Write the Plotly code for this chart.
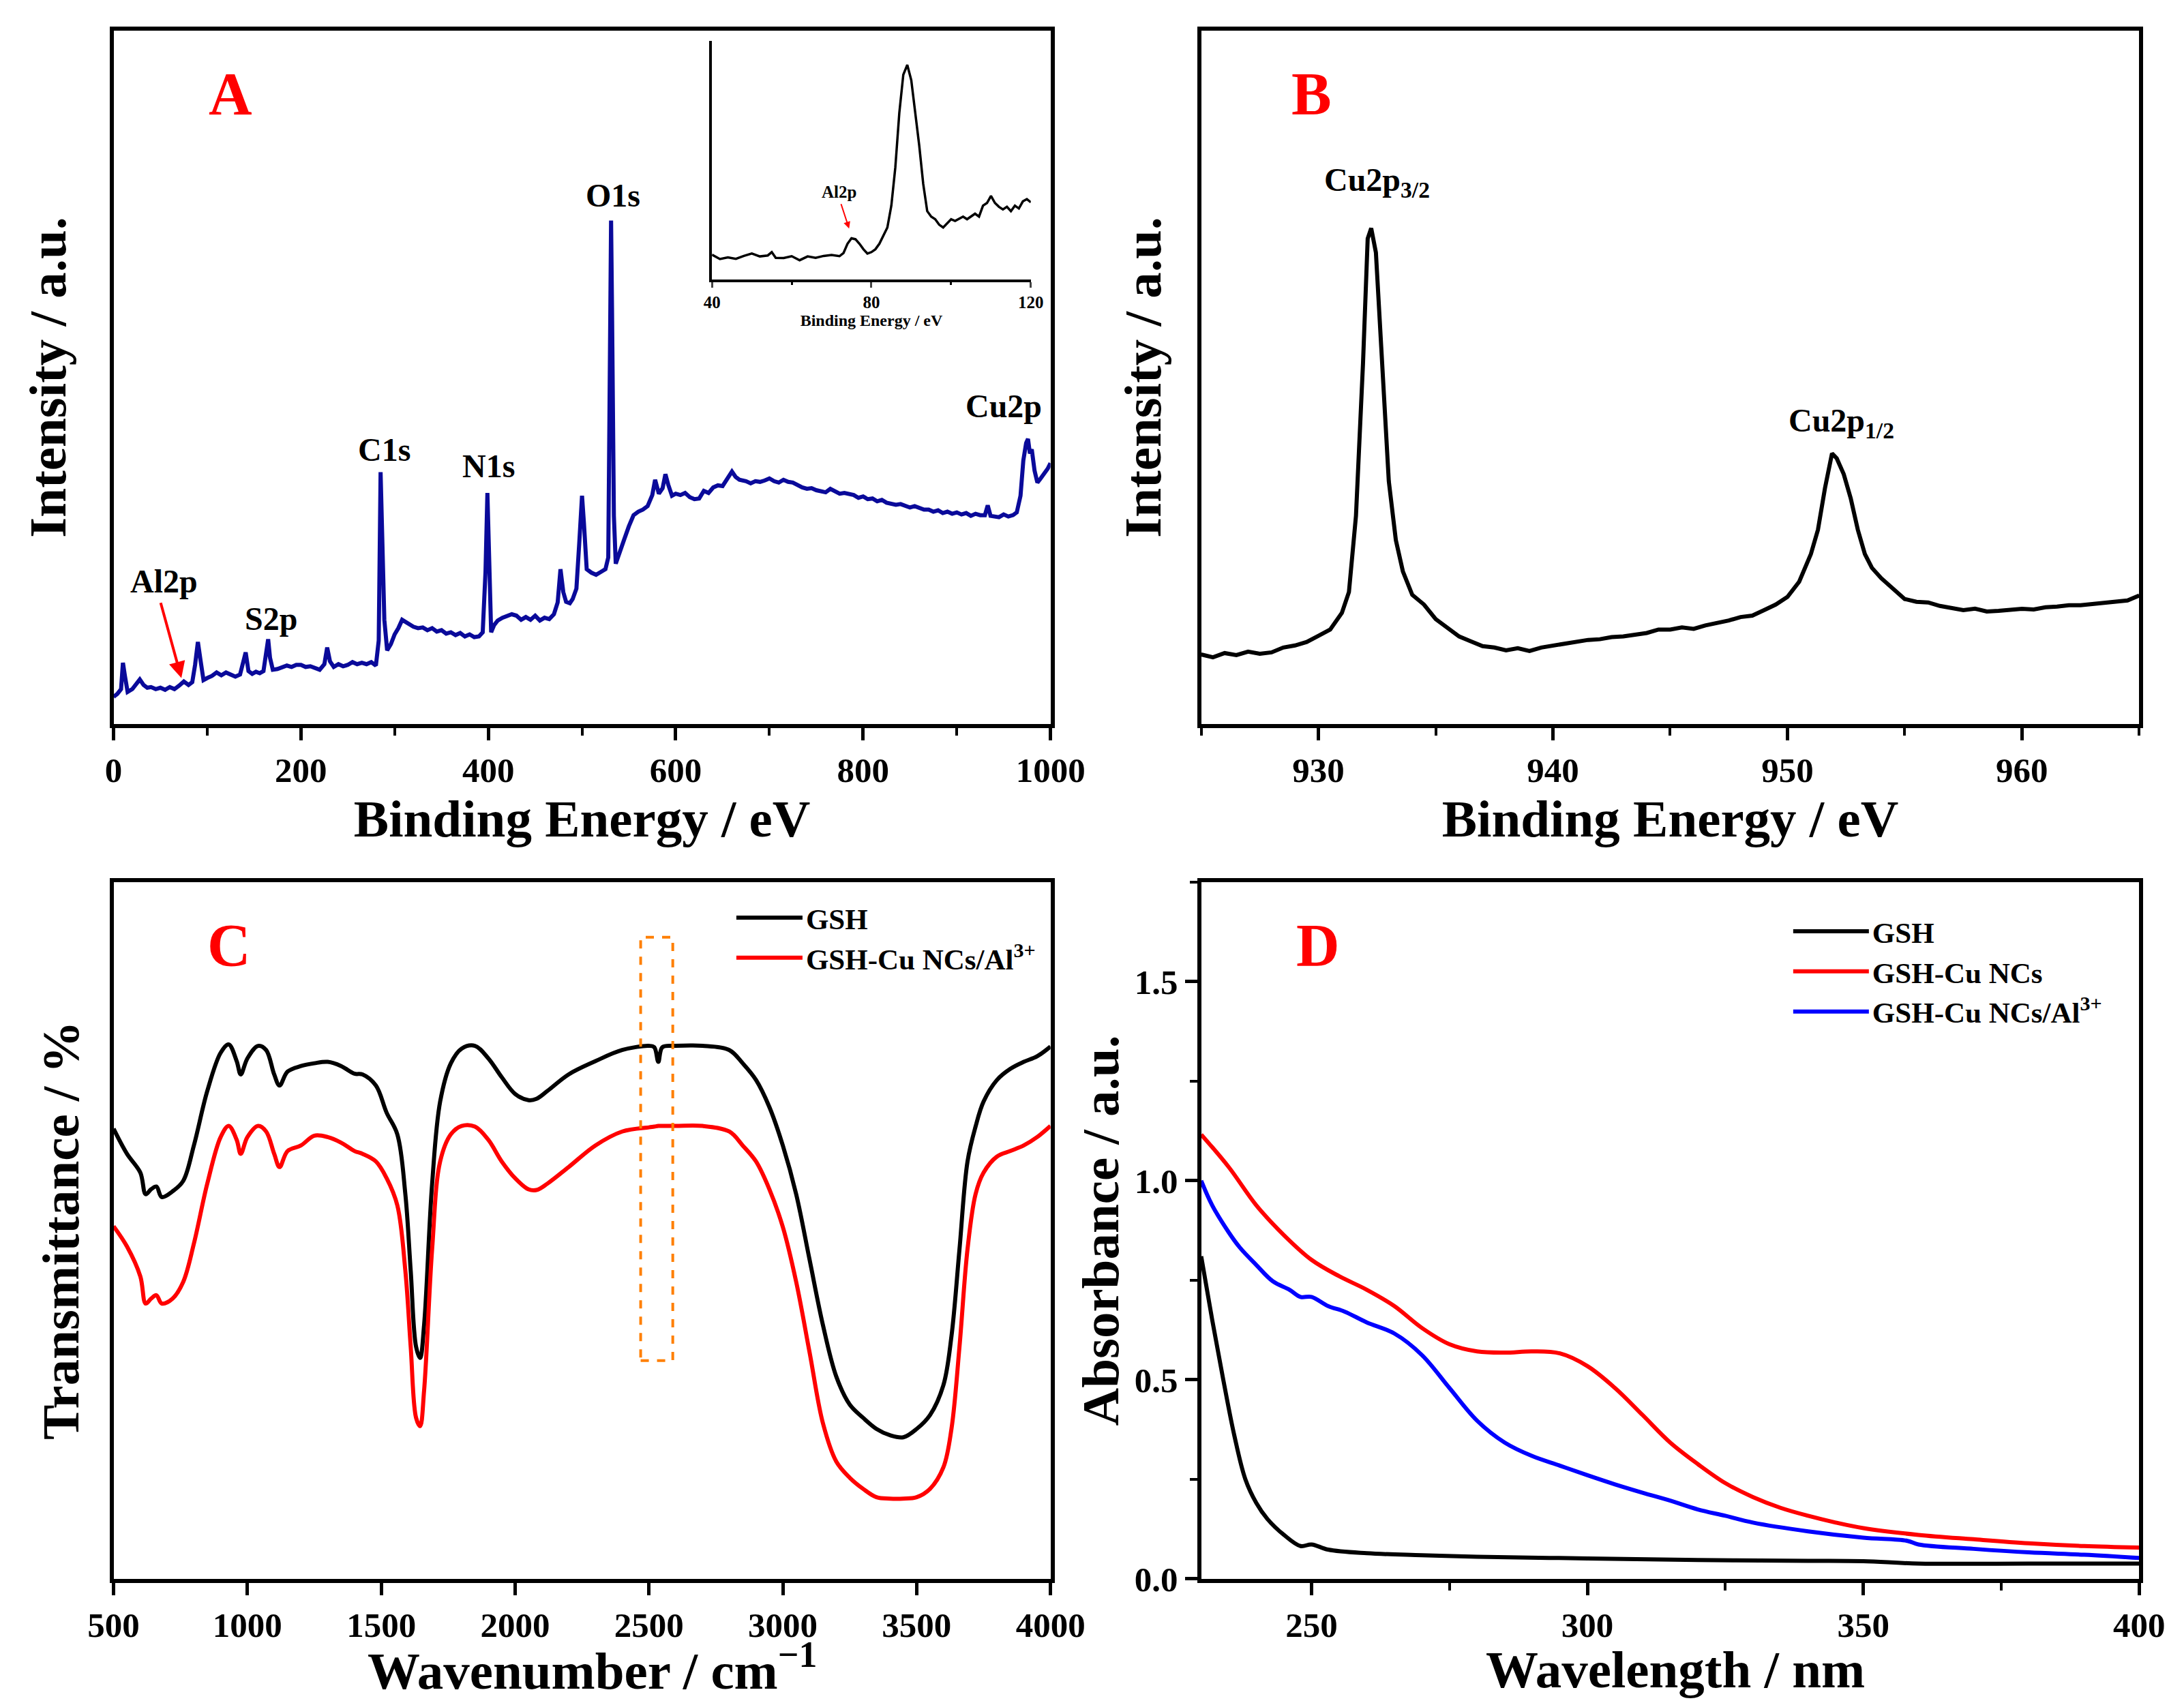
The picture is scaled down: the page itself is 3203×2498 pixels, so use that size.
import plotly.graph_objects as go

FONT = "Liberation Serif"

# ---- panel A: XPS survey ----
survey_be = [0, 4, 8, 10, 12, 15, 20, 25, 28, 32, 36, 40, 45, 50, 55, 60, 65, 70, 75, 80, 84, 87, 90, 93, 96,
             100, 105, 110, 115, 120, 125, 130, 135, 138, 141, 144, 148, 152, 156, 160, 163, 165, 167, 170, 175,
             180, 185, 190, 195, 200, 205, 210, 215, 220, 225, 228, 231, 235, 240, 245, 250, 255, 260, 265, 270,
             275, 280, 283, 285, 287, 289, 292, 296, 300, 304, 308, 312, 316, 320, 325, 330, 335, 340, 345, 350,
             355, 360, 365, 370, 375, 380, 385, 390, 394, 397, 399, 401, 403, 406, 410, 415, 420, 425, 430, 435,
             440, 445, 450, 455, 460, 465, 470, 474, 477, 480, 483, 487, 490, 494, 497, 500, 502, 505, 510, 515,
             520, 525, 528, 530, 531, 532, 534, 536, 540, 545, 550, 555, 560, 565, 570, 575, 578, 582, 586, 589,
             592, 596, 600, 605, 610, 615, 620, 625, 630, 635, 640, 645, 650, 655, 660, 664, 668, 675, 680, 685,
             690, 695, 700, 705, 710, 715, 720, 725, 730, 735, 740, 745, 750, 755, 760, 765, 770, 775, 780, 785,
             790, 795, 800, 805, 810, 815, 820, 825, 830, 835, 840, 845, 850, 855, 860, 865, 870, 875, 880, 885,
             890, 895, 900, 905, 910, 915, 920, 925, 930, 933, 936, 940, 945, 950, 955, 960, 964, 968, 971, 974,
             976, 978, 980, 983, 986, 989, 993, 997, 1000]
survey_int = [3.9, 4.3, 5.0, 8.8, 7.0, 4.6, 5.0, 5.8, 6.4, 5.6, 5.2, 5.3, 5.0, 5.2, 4.9, 5.3, 5.0, 5.5, 6.1, 5.6,
              6.0, 8.5, 11.8, 9.0, 6.3, 6.6, 6.9, 7.4, 7.0, 7.4, 7.1, 6.8, 7.1, 8.5, 10.3, 7.6, 7.2, 7.5, 7.3,
              7.6, 10.5, 12.2, 9.5, 7.8, 7.9, 8.1, 8.4, 8.2, 8.5, 8.5, 8.2, 8.3, 8.0, 7.8, 8.6, 11.0, 9.0, 8.2,
              8.6, 8.3, 8.5, 8.9, 8.6, 8.8, 8.6, 8.9, 8.4, 12.0, 36.3, 27.0, 15.0, 10.6, 11.5, 12.9, 13.8, 15.0,
              14.7, 14.3, 14.0, 13.8, 13.9, 13.5, 13.8, 13.3, 13.5, 13.0, 13.2, 12.8, 13.1, 12.6, 12.9, 12.5,
              12.6, 13.2, 22.0, 33.3, 25.0, 13.2, 14.2, 14.9, 15.3, 15.5, 15.8, 15.6, 15.0, 15.4, 15.0, 15.6,
              14.9, 15.3, 15.1, 15.8, 17.5, 22.3, 19.0, 17.6, 17.4, 18.0, 19.5, 26.0, 32.9, 29.0, 22.3, 21.8,
              21.5, 21.9, 22.3, 24.0, 55.0, 72.6, 60.0, 30.0, 23.1, 24.5, 26.6, 28.5, 30.1, 30.6, 30.9, 31.4,
              33.0, 35.2, 33.2, 34.0, 36.0, 34.5, 32.9, 33.2, 33.0, 33.3, 32.7, 32.4, 32.5, 33.6, 33.3, 34.1,
              34.4, 34.3, 35.5, 36.4, 35.6, 35.2, 35.0, 34.7, 35.0, 34.9, 35.1, 35.4, 35.0, 34.8, 35.2, 34.9,
              34.8, 34.4, 34.1, 33.9, 34.0, 33.7, 33.6, 33.4, 33.9, 33.5, 33.2, 33.3, 33.1, 33.0, 32.6, 32.8,
              32.4, 32.5, 32.1, 32.3, 31.9, 31.8, 31.6, 31.7, 31.5, 31.2, 31.4, 31.1, 30.9, 30.9, 30.6, 30.8,
              30.4, 30.6, 30.3, 30.5, 30.2, 30.4, 30.0, 30.3, 30.1, 30.1, 31.5, 30.0, 29.9, 29.8, 30.2, 29.9,
              30.1, 30.5, 32.9, 38.0, 40.5, 41.1, 39.0, 39.6, 36.5, 34.8, 35.3, 36.0, 36.8, 37.6]

# inset: 40-120 eV region
inset_be = [40, 42, 44, 46, 48, 50, 52, 54, 55, 56, 58, 60, 62, 64, 66, 68, 70, 72, 73, 74, 75, 76, 77, 78, 79,
            80, 81, 82, 84, 85, 86, 87, 88, 89, 90, 91, 92, 93, 94, 95, 96, 97, 98, 100, 101, 103, 104, 106,
            107, 108, 109, 110, 111, 112, 113, 114, 115, 116, 117, 118, 119, 120]
inset_int = [10.3, 8.5, 9.2, 8.6, 9.8, 10.8, 9.6, 10.0, 11.4, 9.0, 8.9, 9.7, 8.0, 9.6, 9.0, 9.8, 10.2, 9.7,
             11.0, 14.9, 17.2, 16.8, 14.9, 12.6, 10.8, 11.4, 12.6, 14.9, 21.7, 30.9, 46.9, 69.8, 85.8, 89.9,
             83.5, 69.8, 56.1, 40.0, 28.6, 26.3, 25.2, 22.9, 21.7, 25.2, 24.5, 26.3, 25.2, 27.5, 26.3, 30.9,
             32.0, 35.0, 32.0, 30.4, 29.3, 30.4, 28.6, 30.9, 29.7, 32.7, 33.6, 32.3]

# ---- panel B: Cu2p ----
cu_be = [925, 925.5, 926, 926.5, 927, 927.5, 928, 928.5, 929, 929.5, 930, 930.5, 931, 931.3, 931.6, 931.9,
         932.1, 932.25, 932.45, 932.7, 933.0, 933.3, 933.6, 934, 934.5, 935, 935.5, 936, 936.5, 937, 937.5,
         938, 938.5, 939, 939.5, 940, 940.5, 941, 941.5, 942, 942.5, 943, 943.5, 944, 944.5, 945, 945.5, 946,
         946.5, 947, 947.5, 948, 948.5, 949, 949.5, 950, 950.5, 951, 951.3, 951.6, 951.9, 952.1, 952.4, 952.7,
         953, 953.3, 953.6, 954, 954.5, 955, 955.5, 956, 956.5, 957, 957.5, 958, 958.5, 959, 959.5, 960,
         960.5, 961, 961.5, 962, 962.5, 963, 963.5, 964, 964.5, 965]
cu_int = [10.0, 9.6, 10.2, 9.9, 10.4, 10.1, 10.3, 11.0, 11.3, 11.8, 12.7, 13.6, 16.0, 19.0, 30.0, 52.0, 70.0,
          71.5, 68.0, 52.0, 35.0, 26.5, 22.0, 18.6, 17.2, 15.1, 13.8, 12.6, 11.9, 11.2, 11.0, 10.6, 10.9, 10.5,
          11.0, 11.3, 11.6, 11.8, 12.1, 12.2, 12.5, 12.6, 12.9, 13.1, 13.6, 13.6, 13.9, 13.7, 14.2, 14.5, 14.9,
          15.4, 15.6, 16.4, 17.2, 18.3, 20.5, 24.5, 28.0, 34.0, 39.0, 38.3, 36.0, 32.5, 28.0, 24.5, 22.5, 21.0,
          19.5, 18.0, 17.6, 17.5, 17.0, 16.7, 16.4, 16.6, 16.2, 16.3, 16.4, 16.6, 16.5, 16.8, 16.9, 17.1, 17.1,
          17.3, 17.5, 17.6, 17.8, 18.5]

# ---- panel C: FTIR ----
ir_wn = [500, 550, 600, 620, 640, 660, 680, 720, 760, 800, 850, 900, 930, 960, 975, 1000, 1040, 1070, 1100,
         1120, 1150, 1200, 1250, 1300, 1350, 1400, 1430, 1480, 1520, 1560, 1590, 1610, 1630, 1645, 1660, 1690,
         1720, 1760, 1800, 1850, 1900, 1950, 2000, 2050, 2080, 2120, 2200, 2300, 2400, 2500, 2520, 2535, 2550,
         2600, 2700, 2800, 2850, 2900, 2950, 3000, 3050, 3100, 3150, 3200, 3250, 3300, 3350, 3400, 3450, 3500,
         3550, 3600, 3630, 3660, 3690, 3720, 3750, 3800, 3850, 3900, 3950, 4000]
ir_gsh = [64.6, 61.0, 58.3, 55.2, 55.9, 56.3, 54.8, 55.6, 57.1, 62.2, 70.0, 75.5, 76.7, 74.3, 72.4, 74.7, 76.5,
          75.9, 72.4, 70.8, 72.8, 73.6, 74.0, 74.2, 73.6, 72.5, 72.4, 70.8, 66.9, 63.8, 55.2, 44.2, 33.3, 31.7,
          36.4, 56.7, 68.5, 74.0, 76.1, 76.5, 74.7, 72.0, 69.6, 68.7, 68.9, 70.0, 72.4, 74.3, 75.9, 76.5, 76.3,
          74.2, 76.3, 76.5, 76.5, 75.9, 74.0, 71.6, 67.7, 62.2, 55.2, 45.8, 36.4, 29.0, 25.0, 23.1, 21.5, 20.6,
          20.3, 21.5, 23.5, 27.8, 34.8, 47.3, 59.9, 64.9, 68.5, 71.6, 73.2, 74.2, 75.0, 76.4]
ir_al = [50.6, 47.7, 43.4, 39.5, 40.2, 40.7, 39.5, 40.2, 42.6, 48.1, 56.7, 63.4, 65.0, 63.0, 61.0, 63.4, 65.0,
         64.2, 61.0, 59.1, 61.4, 62.2, 63.6, 63.4, 62.6, 61.4, 61.0, 59.9, 57.5, 53.6, 44.2, 33.3, 23.1, 21.9,
         27.0, 47.3, 59.9, 63.8, 65.0, 64.9, 63.0, 59.9, 57.5, 55.9, 55.8, 56.7, 59.1, 62.2, 64.2, 64.8, 64.9,
         65.0, 65.0, 65.0, 65.0, 64.2, 62.2, 59.9, 55.9, 50.5, 42.6, 32.5, 22.3, 16.8, 14.5, 12.9, 11.7, 11.5,
         11.5, 11.7, 12.9, 16.0, 21.5, 33.3, 47.3, 55.2, 58.3, 60.6, 61.4, 62.2, 63.4, 65.0]

# ---- panel D: UV-vis ----
uv_gsh_nm = [230, 232, 234, 236, 238, 240, 242, 245, 248, 250, 253, 260, 270, 280, 300, 320, 340, 350, 360,
             380, 400]
uv_gsh = [0.81, 0.65, 0.50, 0.36, 0.25, 0.19, 0.15, 0.11, 0.082, 0.086, 0.073, 0.064, 0.059, 0.055, 0.051,
          0.047, 0.045, 0.044, 0.038, 0.038, 0.038]
uv_nc_nm = [230, 235, 240, 245, 250, 255, 260, 265, 270, 275, 280, 285, 290, 295, 300, 305, 310, 315, 320, 325,
            330, 335, 340, 345, 350, 360, 370, 380, 390, 400]
uv_nc = [1.116, 1.034, 0.938, 0.863, 0.801, 0.760, 0.726, 0.685, 0.630, 0.589, 0.571, 0.568, 0.571, 0.566,
         0.534, 0.479, 0.411, 0.342, 0.288, 0.240, 0.205, 0.178, 0.158, 0.141, 0.127, 0.110, 0.099, 0.089,
         0.082, 0.078]
uv_al_nm = [230, 232, 235, 237, 240, 243, 246, 248, 250, 253, 256, 260, 265, 270, 275, 280, 285, 290, 295, 300,
            305, 310, 315, 320, 325, 330, 340, 350, 358, 360, 370, 380, 390, 400]
uv_al = [1.00, 0.938, 0.870, 0.832, 0.788, 0.747, 0.726, 0.708, 0.708, 0.685, 0.671, 0.644, 0.616, 0.562,
         0.479, 0.397, 0.342, 0.308, 0.284, 0.260, 0.237, 0.216, 0.196, 0.174, 0.158, 0.141, 0.119, 0.103,
         0.095, 0.086, 0.075, 0.066, 0.060, 0.052]

BOX = (2469, 2589, 31.3, 92.1)  # dashed box around the S-H band in panel C

LW = 6
fig = go.Figure()
fig.add_trace(go.Scatter(x=survey_be, y=survey_int, mode='lines', line=dict(color='#0A0A9A', width=LW),
                         xaxis='x', yaxis='y', showlegend=False))
fig.add_trace(go.Scatter(x=inset_be, y=inset_int, mode='lines', line=dict(color='black', width=3.5),
                         xaxis='x5', yaxis='y5', showlegend=False))
fig.add_trace(go.Scatter(x=cu_be, y=cu_int, mode='lines', line=dict(color='black', width=LW),
                         xaxis='x2', yaxis='y2', showlegend=False))
fig.add_trace(go.Scatter(x=ir_wn, y=ir_gsh, mode='lines', line=dict(color='black', width=LW, shape='spline'),
                         xaxis='x3', yaxis='y3', name='GSH', legend='legend'))
fig.add_trace(go.Scatter(x=ir_wn, y=ir_al, mode='lines', line=dict(color='red', width=LW, shape='spline'),
                         xaxis='x3', yaxis='y3', name='GSH-Cu NCs/Al<sup>3+</sup>', legend='legend'))
fig.add_trace(go.Scatter(x=uv_gsh_nm, y=uv_gsh, mode='lines', line=dict(color='black', width=LW, shape='spline'),
                         xaxis='x4', yaxis='y4', name='GSH', legend='legend2'))
fig.add_trace(go.Scatter(x=uv_nc_nm, y=uv_nc, mode='lines', line=dict(color='red', width=LW, shape='spline'),
                         xaxis='x4', yaxis='y4', name='GSH-Cu NCs', legend='legend2'))
fig.add_trace(go.Scatter(x=uv_al_nm, y=uv_al, mode='lines', line=dict(color='blue', width=LW, shape='spline'),
                         xaxis='x4', yaxis='y4', name='GSH-Cu NCs/Al<sup>3+</sup>', legend='legend2'))

tick_font = dict(family=FONT, size=51, color='black', weight='bold')
title_font = dict(family=FONT, size=77, color='black', weight='bold')

# page body has an 8px margin: nudge everything up/left by that much
TOP = [0.5782, 0.9852]
BOT = [0.0762, 0.4852]
LEFT = [0.0495, 0.4785]
RIGHT = [0.5475, 0.9770]


def axis(**kw):
    d = dict(showline=True, linewidth=6, linecolor='black', mirror=True, ticks='outside', ticklen=18,
             tickwidth=5, tickcolor='black', showgrid=False, zeroline=False, tickfont=tick_font,
             automargin=False)
    d.update(kw)
    return d


def minor(step):
    return dict(dtick=step, ticks='outside', ticklen=11, tickwidth=4, tickcolor='black', showgrid=False)


fig.update_layout(
    width=3203, height=2498,
    margin=dict(t=0, b=0, l=0, r=0, autoexpand=False),
    paper_bgcolor='white', plot_bgcolor='white',
    xaxis=axis(domain=LEFT, anchor='y', range=[0, 1000], dtick=200, minor=minor(100),
               title=dict(text='Binding Energy / eV', font=title_font)),
    yaxis=axis(domain=TOP, anchor='x', range=[0, 100], ticks='', showticklabels=False,
               title=dict(text='Intensity / a.u.', font=title_font, standoff=41)),
    xaxis2=axis(domain=RIGHT, anchor='y2', range=[925, 965], dtick=10, minor=minor(5),
                title=dict(text='Binding Energy / eV', font=title_font)),
    yaxis2=axis(domain=TOP, anchor='x2', range=[0, 100], ticks='', showticklabels=False,
                title=dict(text='Intensity / a.u.', font=title_font, standoff=30)),
    xaxis3=axis(domain=LEFT, anchor='y3', range=[500, 4000], dtick=500),
    yaxis3=axis(domain=BOT, anchor='x3', range=[0, 100], ticks='', showticklabels=False,
                title=dict(text='Transmittance / %', font=title_font, standoff=22)),
    xaxis4=axis(domain=RIGHT, anchor='y4', range=[230, 400], dtick=50, minor=minor(25)),
    yaxis4=axis(domain=BOT, anchor='x4', range=[0, 1.75], dtick=0.5, tickformat='.1f',
                minor=minor(0.25), title=dict(text='Absorbance / a.u.', font=title_font, standoff=0)),
    xaxis5=dict(domain=[0.3235, 0.4695], anchor='y5', range=[40, 120], showline=True, linewidth=4,
                linecolor='black', mirror=False, ticks='outside', ticklen=8, tickwidth=3,
                tickvals=[40, 80, 120], showgrid=False, zeroline=False, automargin=False,
                minor=dict(tickvals=[60, 100], ticks='outside', ticklen=4, tickwidth=3, tickcolor='black'),
                tickfont=dict(family=FONT, size=25, color='black', weight='bold'),
                title=dict(text='Binding Energy / eV', standoff=2,
                           font=dict(family=FONT, size=24, color='black', weight='bold'))),
    yaxis5=dict(domain=[0.8392, 0.9792], anchor='x5', range=[0, 100], showline=True, linewidth=4,
                linecolor='black', mirror=False, ticks='', showticklabels=False, showgrid=False,
                zeroline=False, automargin=False),
    legend=dict(x=0.3331, y=0.4782, xanchor='left', yanchor='top', bgcolor='rgba(0,0,0,0)',
                font=dict(family=FONT, size=43, color='black', weight='bold'), itemwidth=97),
    legend2=dict(x=0.8170, y=0.4702, xanchor='left', yanchor='top', bgcolor='rgba(0,0,0,0)',
                 font=dict(family=FONT, size=43, color='black', weight='bold'), itemwidth=111),
)

peak_font = dict(family=FONT, size=48, color='black', weight='bold')
letter_font = dict(family=FONT, size=88, color='red', weight='bold')
letters = [('A', 0.1030, 0.9482), ('B', 0.5980, 0.9482), ('C', 0.1025, 0.4482), ('D', 0.6010, 0.4482)]
annotations = [dict(text=t, x=x, y=y, xref='paper', yref='paper', xanchor='center', yanchor='middle',
                    showarrow=False, font=letter_font) for t, x, y in letters]
# bottom-row x titles, set as annotations so they sit just inside the page edge
annotations += [
    dict(text='Wavenumber / cm<sup>\u22121</sup>', x=0.2685, y=0.004, xref='paper', yref='paper',
         xanchor='center', yanchor='bottom', showarrow=False, font=title_font),
    dict(text='Wavelength / nm', x=0.7645, y=0.005, xref='paper', yref='paper',
         xanchor='center', yanchor='bottom', showarrow=False, font=title_font),
]
annotations += [
    dict(text='O1s', x=533, y=76.2, xref='x', yref='y', showarrow=False, font=peak_font),
    dict(text='C1s', x=289, y=39.6, xref='x', yref='y', showarrow=False, font=peak_font),
    dict(text='N1s', x=400, y=37.2, xref='x', yref='y', showarrow=False, font=peak_font),
    dict(text='S2p', x=168, y=15.2, xref='x', yref='y', showarrow=False, font=peak_font),
    dict(text='Cu2p', x=950, y=45.9, xref='x', yref='y', showarrow=False, font=peak_font),
    dict(text='Al2p', x=54, y=20.6, xref='x', yref='y', showarrow=False, font=peak_font),
    dict(text='', x=72.4, y=6.6, ax=50, ay=17.6, xref='x', yref='y', axref='x', ayref='y',
         showarrow=True, arrowhead=2, arrowsize=1.2, arrowwidth=4, arrowcolor='red'),
    dict(text='Al2p', x=71.8, y=36.6, xref='x5', yref='y5', showarrow=False,
         font=dict(family=FONT, size=25, color='black', weight='bold')),
    dict(text='', x=74.4, y=21.3, ax=72.3, ay=32, xref='x5', yref='y5', axref='x5', ayref='y5',
         showarrow=True, arrowhead=2, arrowsize=1, arrowwidth=2, arrowcolor='red'),
    dict(text='Cu2p<sub>3/2</sub>', x=932.5, y=78.2, xref='x2', yref='y2', showarrow=False, font=peak_font),
    dict(text='Cu2p<sub>1/2</sub>', x=952.3, y=43.4, xref='x2', yref='y2', showarrow=False, font=peak_font),
]
fig.update_layout(annotations=annotations)

fig.add_shape(type='rect', xref='x3', yref='y3', x0=BOX[0], x1=BOX[1], y0=BOX[2], y1=BOX[3],
              line=dict(color='#FF7F00', width=4, dash='dash'))

fig.write_html("out.html")
